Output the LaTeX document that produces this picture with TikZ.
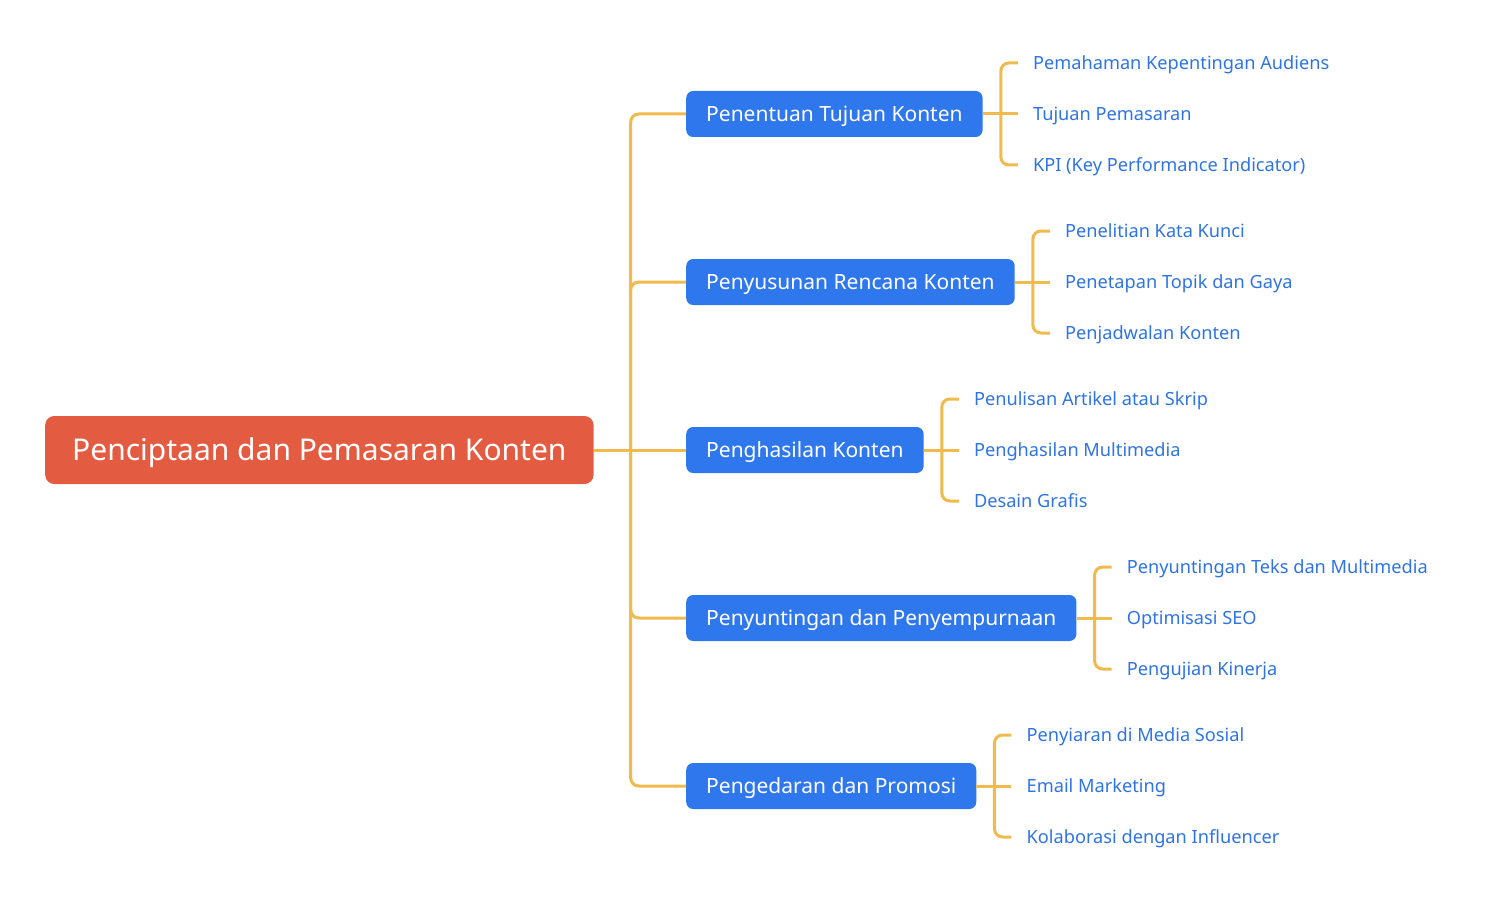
\documentclass[tikz,border=0pt]{standalone}
\usepackage{fontspec}
\setmainfont{Noto Sans}
\usetikzlibrary{positioning}
\definecolor{rootred}{HTML}{E35C42}
\definecolor{topicblue}{HTML}{2F77EC}
\definecolor{leafblue}{HTML}{2E74E4}
\definecolor{branchline}{HTML}{F0BA4C}
\tikzset{
  rootbox/.style={fill=rootred,text=white,rounded corners=9pt,font=\fontsize{30}{34}\selectfont,
    inner xsep=27pt,minimum height=68pt,text height=21.4pt,text depth=0pt,anchor=west},
  topicbox/.style={fill=topicblue,text=white,rounded corners=7pt,font=\fontsize{21}{25}\selectfont,
    inner xsep=20pt,minimum height=46pt,text height=15pt,text depth=0pt,anchor=west},
  leaftext/.style={text=leafblue,font=\fontsize{18.2}{22}\selectfont,inner xsep=15pt,
    text height=13pt,text depth=0pt,anchor=west},
  link/.style={draw=branchline,line width=3pt,rounded corners=8pt}
}
\begin{document}
\begin{tikzpicture}[x=1pt,y=-1pt]
  \useasboundingbox (0,0) rectangle (1492,915);
  \node[rootbox] (root) at (45,450) {Penciptaan dan Pemasaran Konten};

  % topics
  \node[topicbox] (t1) at (686,114) {Penentuan Tujuan Konten};
  \node[topicbox] (t2) at (686,282) {Penyusunan Rencana Konten};
  \node[topicbox] (t3) at (686,450) {Penghasilan Konten};
  \node[topicbox] (t4) at (686,618) {Penyuntingan dan Penyempurnaan};
  \node[topicbox] (t5) at (686,786) {Pengedaran dan Promosi};

  \coordinate (hub) at ([xshift=37]root.east);
  \draw[link] (root.east) -- (t3.west);
  \foreach \t in {t1,t2,t4,t5}
    \draw[link] (hub) |- (\t.west);

  % leaves
  \node[leaftext] (l11) at ([xshift=35]t1.east |- 0,63) {Pemahaman Kepentingan Audiens};
  \node[leaftext] (l12) at ([xshift=35]t1.east |- 0,114) {Tujuan Pemasaran};
  \node[leaftext] (l13) at ([xshift=35]t1.east |- 0,165) {KPI (Key Performance Indicator)};
  \node[leaftext] (l21) at ([xshift=35]t2.east |- 0,231) {Penelitian Kata Kunci};
  \node[leaftext] (l22) at ([xshift=35]t2.east |- 0,282) {Penetapan Topik dan Gaya};
  \node[leaftext] (l23) at ([xshift=35]t2.east |- 0,333) {Penjadwalan Konten};
  \node[leaftext] (l31) at ([xshift=35]t3.east |- 0,399) {Penulisan Artikel atau Skrip};
  \node[leaftext] (l32) at ([xshift=35]t3.east |- 0,450) {Penghasilan Multimedia};
  \node[leaftext] (l33) at ([xshift=35]t3.east |- 0,501) {Desain Grafis};
  \node[leaftext] (l41) at ([xshift=35]t4.east |- 0,567) {Penyuntingan Teks dan Multimedia};
  \node[leaftext] (l42) at ([xshift=35]t4.east |- 0,618) {Optimisasi SEO};
  \node[leaftext] (l43) at ([xshift=35]t4.east |- 0,669) {Pengujian Kinerja};
  \node[leaftext] (l51) at ([xshift=35]t5.east |- 0,735) {Penyiaran di Media Sosial};
  \node[leaftext] (l52) at ([xshift=35]t5.east |- 0,786) {Email Marketing};
  \node[leaftext] (l53) at ([xshift=35]t5.east |- 0,837) {Kolaborasi dengan Influencer};

  \foreach \t in {1,...,5} {
    \coordinate (h\t) at ([xshift=18]t\t.east);
    \draw[link] (t\t.east) -- (l\t2.west);
    \draw[link] (h\t) |- (l\t1.west);
    \draw[link] (h\t) |- (l\t3.west);
  }
\end{tikzpicture}
\end{document}
